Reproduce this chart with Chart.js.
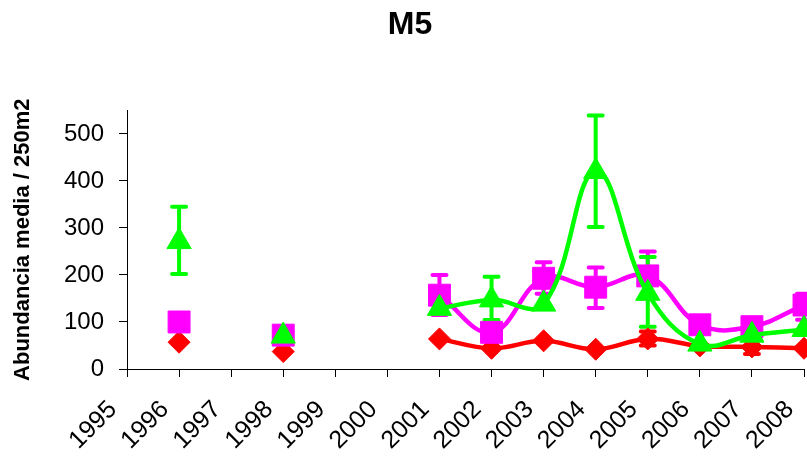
<!DOCTYPE html>
<html>
<head>
<meta charset="utf-8">
<title>M5</title>
<script src="https://cdn.jsdelivr.net/npm/chart.js@4.4.0/dist/chart.umd.min.js"></script>
<style>
  html, body { margin: 0; padding: 0; background: #fff; }
  canvas { display: block; }
</style>
</head>
<body>
<canvas id="m5Chart" width="807" height="462"></canvas>
<script>
// Sampling years
const years = ['1995', '1996', '1997', '1998', '1999', '2000', '2001',
  '2002', '2003', '2004', '2005', '2006', '2007', '2008'];

// Mean abundance / 250m2 (null = not sampled)
const redMean = [null, 57, null, 37, null, null, 64, 44, 60, 42, 64, 49, 47, 44];
const magentaMean = [null, 100, null, 72, null, null, 157, 78, 193, 174, 198, 94, 90, 136];
const greenMean = [null, 271, null, 70, null, null, 129, 147, 138, 420, 161, 53, 72, 84];

// Error bar limits
const redLow = [null, null, null, null, null, null, null, null, null, null, 50, null, 32, null];
const redHigh = [null, null, null, null, null, null, null, null, null, null, 80, null, 62, null];
const magentaLow = [null, null, null, null, null, null, 115, null, 160, 130, 150, null, null, 105];
const magentaHigh = [null, null, null, null, null, null, 200, null, 227, 216, 250, null, null, 160];
const greenLow = [null, 202, null, null, null, null, null, 104, null, 302, 90, null, null, null];
const greenHigh = [null, 345, null, null, null, null, null, 196, null, 539, 238, null, null, null];

// Y axis ticks
const yTicks = [0, 100, 200, 300, 400, 500];

const fontFamily = '"Liberation Sans", Arial, Helvetica, sans-serif';

// Vertical error bars with caps, drawn under the markers
const errorBars = {
  id: 'errorBars',
  beforeDatasetsDraw(chart) {
    const { ctx } = chart;
    const xScale = chart.scales.x;
    const yScale = chart.scales.y;
    const capHalf = 7;

    chart.data.datasets.forEach((ds) => {
      ctx.save();
      ctx.strokeStyle = ds.borderColor;
      ctx.lineWidth = 4;
      ctx.lineCap = 'round';
      ds.errLow.forEach((lo, j) => {
        const hi = ds.errHigh[j];
        if (lo === null || hi === null) return;
        const x = xScale.getPixelForValue(j);
        const yLo = yScale.getPixelForValue(lo);
        const yHi = yScale.getPixelForValue(hi);
        ctx.beginPath();
        ctx.moveTo(x, yLo);
        ctx.lineTo(x, yHi);
        ctx.moveTo(x - capHalf, yLo);
        ctx.lineTo(x + capHalf, yLo);
        ctx.moveTo(x - capHalf, yHi);
        ctx.lineTo(x + capHalf, yHi);
        ctx.stroke();
      });
      ctx.restore();
    });
  },
};

function series(data, low, high, color, style, radius, order) {
  return {
    data: data,
    errLow: low,
    errHigh: high,
    borderColor: color,
    backgroundColor: color,
    borderWidth: 4.5,
    tension: 0.4,
    pointStyle: style,
    pointRadius: radius,
    pointHoverRadius: radius,
    pointBorderWidth: 1,
    pointBorderColor: color,
    pointBackgroundColor: color,
    clip: false,
    order: order,
  };
}

// rotated year labels would otherwise reserve room on the right
const noPadding = () => ({ left: 0, top: 0, right: 0, bottom: 0 });

const ctx = document.getElementById('m5Chart').getContext('2d');

new Chart(ctx, {
  type: 'line',
  data: {
    labels: years,
    datasets: [
      series(redMean, redLow, redHigh, '#ff0000', 'rectRot', 11, 3),
      series(magentaMean, magentaLow, magentaHigh, '#ff00ff', 'rect', 15.5, 2),
      series(greenMean, greenLow, greenHigh, '#00ff00', 'triangle', 14, 1),
    ],
  },
  options: {
    responsive: false,
    animation: false,
    layout: {
      autoPadding: false,
      padding: { left: 16, right: 3, top: 0, bottom: 0 },
    },
    plugins: {
      legend: { display: false },
      tooltip: { enabled: false },
      title: {
        display: true,
        text: 'M5',
        color: '#000',
        font: { family: fontFamily, size: 32, weight: 'bold' },
        padding: { top: 6, bottom: 66 },
      },
    },
    scales: {
      x: {
        offset: false,
        grid: {
          drawOnChartArea: false,
          drawTicks: true,
          tickLength: 8,
          color: '#000',
        },
        border: { color: '#000', width: 1 },
        ticks: {
          color: '#000',
          font: { family: fontFamily, size: 25 },
          autoSkip: false,
          minRotation: 45,
          maxRotation: 45,
          padding: 18,
          labelOffset: -14,
        },
        afterFit(scale) {
          scale.height = 93;
          scale.paddingLeft = 0;
          scale.paddingRight = 0;
          scale.getPadding = noPadding;
        },
      },
      y: {
        min: 0,
        max: 550,
        grid: {
          drawOnChartArea: false,
          drawTicks: true,
          tickLength: 8,
          color: '#000',
        },
        border: { color: '#000', width: 1 },
        ticks: {
          color: '#000',
          font: { family: fontFamily, size: 24 },
          stepSize: 100,
          padding: 15,
        },
        afterBuildTicks(scale) {
          scale.ticks = yTicks.map((v) => ({ value: v }));
        },
        afterFit(scale) {
          scale.width = 111;
          scale.paddingTop = 0;
          scale.paddingBottom = 0;
          scale.getPadding = noPadding;
        },
        title: {
          display: true,
          text: 'Abundancia media / 250m2',
          color: '#000',
          font: { family: fontFamily, size: 22, weight: 'bold' },
          padding: { top: -6, bottom: 0 },
        },
      },
    },
  },
  plugins: [errorBars],
});
</script>
</body>
</html>
